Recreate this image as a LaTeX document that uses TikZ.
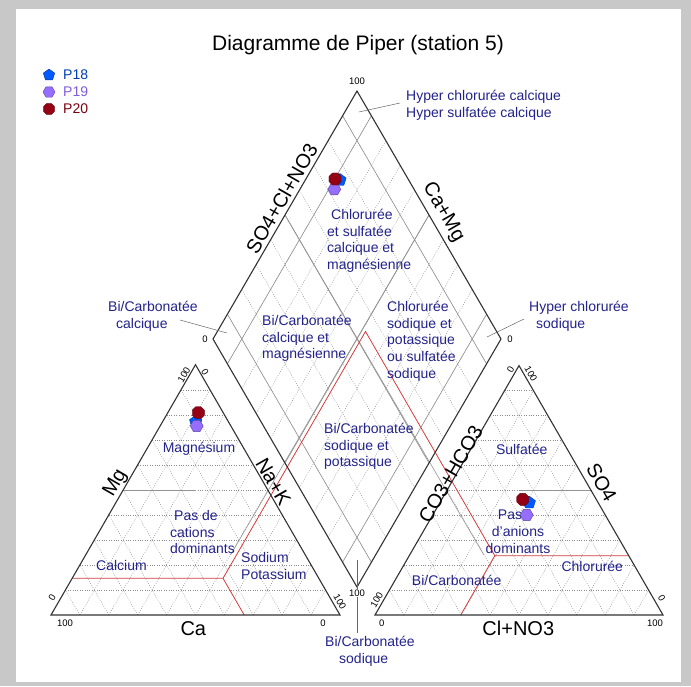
\documentclass[tikz,border=0pt]{standalone}
\usepackage{fontspec}
\setmainfont{Liberation Sans}
\usetikzlibrary{calc,positioning,shapes.geometric}

\definecolor{navy}{RGB}{35,35,140}
\definecolor{redline}{RGB}{210,60,60}
\definecolor{framegray}{RGB}{200,200,200}
\definecolor{c18}{RGB}{0,90,255}
\definecolor{c19}{RGB}{150,110,255}
\definecolor{c20}{RGB}{150,0,20}

\begin{document}
\begin{tikzpicture}[x=1pt,y=-1pt,
		frame/.style={draw=black!80,line width=1.1pt},
		grid/.style={draw=black!45,line width=0.45pt,dash pattern=on 0.9pt off 1.5pt},
		clas/.style={draw=black!42,line width=0.6pt},
		redl/.style={draw=redline,line width=0.8pt},
		lead/.style={draw=black!60,line width=0.5pt},
		lab/.style={text=navy,font=\fontsize{14}{16.7}\selectfont,align=left,inner sep=0pt},
		ax/.style={font=\fontsize{20}{24}\selectfont,inner sep=0pt},
		tk/.style={font=\fontsize{9.5}{11}\selectfont,inner sep=0pt},
		leg/.style={anchor=west,inner sep=0pt,font=\fontsize{14}{16}\selectfont},
		p18/.style={regular polygon,regular polygon sides=5,fill=c18,draw=c18!60!black,minimum size=13pt,inner sep=0pt},
		p19/.style={regular polygon,regular polygon sides=6,fill=c19,draw=c19!60!black,minimum size=13pt,inner sep=0pt},
		p20/.style={regular polygon,regular polygon sides=8,fill=c20,draw=c20!60!black,minimum size=13pt,inner sep=0pt}]
	\useasboundingbox (0,0) rectangle (691,686);
	\fill[framegray] (0,0) rectangle (691,686);
	\fill[white] (16,9) rectangle (681,682);
	%% define corners
	\coordinate (cA) at (51,615);
	\coordinate (cN) at (340,615);
	\coordinate (cM) at (195.5,364.7);
	\coordinate (aC) at (375,615);
	\coordinate (aL) at (663,615);
	\coordinate (aS) at (519,365.6);
	\coordinate (dT) at (357,91);
	\coordinate (dL) at (213,339);
	\coordinate (dR) at (501,339);
	\coordinate (dB) at (357,587);
	%% define grids
	\foreach \i in {1,...,9}{
		\draw[grid] ($(cA)!\i/10!(cM)$) -- ($(cN)!\i/10!(cM)$);
		\draw[grid] ($(cA)!\i/10!(cN)$) -- ($(cM)!\i/10!(cN)$);
		\draw[grid] ($(cN)!\i/10!(cA)$) -- ($(cM)!\i/10!(cA)$);
		\draw[grid] ($(aC)!\i/10!(aS)$) -- ($(aL)!\i/10!(aS)$);
		\draw[grid] ($(aC)!\i/10!(aL)$) -- ($(aS)!\i/10!(aL)$);
		\draw[grid] ($(aL)!\i/10!(aC)$) -- ($(aS)!\i/10!(aC)$);
		\draw[grid] ($(dB)!\i/10!(dR)$) -- ($(dL)!\i/10!(dT)$);
		\draw[grid] ($(dB)!\i/10!(dL)$) -- ($(dR)!\i/10!(dT)$);
	}
	%% define classification lines
	\foreach \i in {1,5,9}{
		\draw[clas] ($(dB)!\i/10!(dR)$) -- ($(dL)!\i/10!(dT)$);
		\draw[clas] ($(dB)!\i/10!(dL)$) -- ($(dR)!\i/10!(dT)$);
	}
	\coordinate (nk0) at ($(cA)!0.5!(cN)$);
	\coordinate (nk1) at ($(dR)!0.5!(dT)$);
	\coordinate (hc0) at ($(aC)!0.5!(aL)$);
	\coordinate (hc1) at ($(dL)!0.5!(dT)$);
	\draw[clas] ($(nk0)!0.15!(nk1)$) -- (nk1);
	\draw[clas] ($(hc0)!0.15!(hc1)$) -- (hc1);
	\coordinate (mg0) at ($(cA)!0.5!(cM)$);
	\coordinate (so0) at ($(aL)!0.5!(aS)$);
	\draw[clas] (mg0) -- (mg0 -| cM);
	\draw[clas] (so0 -| aS) -- (so0);
	%% define red lines
	\coordinate (rL) at (72.2,578.3);
	\coordinate (rK1) at (223,578.3);
	\coordinate (rB1) at (244.2,615);
	\coordinate (rP) at (365.5,331.5);
	\coordinate (rK2) at (494.8,555.7);
	\coordinate (rB2) at (460.7,615);
	\coordinate (rR) at (628.8,555.7);
	\draw[redl] (rL) -- (rK1) -- (rP) -- (rK2) -- (rR);
	\draw[redl] (rK1) -- (rB1);
	\draw[redl] (rK2) -- (rB2);
	%% define frames
	\draw[frame] (cA) -- (cN) -- (cM) -- cycle;
	\draw[frame] (aC) -- (aL) -- (aS) -- cycle;
	\draw[frame] (dT) -- (dR) -- (dB) -- (dL) -- cycle;
	%% define leaders
	\coordinate (ldA1) at (359,112);
	\coordinate (ldA2) at (400,103);
	\coordinate (ldB1) at (227,333);
	\coordinate (ldB2) at (180,320);
	\coordinate (ldC1) at (487,337);
	\coordinate (ldC2) at (524,319);
	\coordinate (ldD1) at (357,560);
	\coordinate (ldD2) at (357,633);
	\draw[lead] (ldA1) -- (ldA2);
	\draw[lead] (ldB1) -- (ldB2);
	\draw[lead] (ldC1) -- (ldC2);
	\draw[lead] (ldD1) -- (ldD2);
	%% define texts
	\node (title) at (358,45) [font=\fontsize{21}{25}\selectfont] {Diagramme de Piper (station 5)};
	\node (axMg) at (115.7,483.3) [ax,rotate=60] {Mg};
	\node (axNK) at (273.3,481.7) [ax,rotate=-60] {Na+K};
	\node (axCa) at (193.3,629) [ax] {Ca};
	\node (axHC) at (450.7,474) [ax,rotate=60] {CO3+HCO3};
	\node (axSO) at (601.7,482.7) [ax,rotate=-60] {SO4};
	\node (axCl) at (518.3,628.3) [ax] {Cl+NO3};
	\node (axAn) at (281.7,198.3) [ax,rotate=60] {SO4+Cl+NO3};
	\node (axCM) at (443.3,212.3) [ax,rotate=-60] {Ca+Mg};
	%% ticks
	\node (t1) at (65,623.3) [tk] {100};
	\node (t2) at (323,623.3) [tk] {0};
	\node (t3) at (52,598) [tk,rotate=60] {0};
	\node (t4) at (184,375) [tk,rotate=60] {100};
	\node (t5) at (205,371.7) [tk,rotate=-60] {0};
	\node (t6) at (340,601.7) [tk,rotate=-60] {100};
	\node (t7) at (510.7,370) [tk,rotate=60] {0};
	\node (t8) at (531,374) [tk,rotate=-60] {100};
	\node (t9) at (376.7,600) [tk,rotate=60] {100};
	\node (t10) at (661.7,598) [tk,rotate=-60] {0};
	\node (t11) at (381.7,623.3) [tk] {0};
	\node (t12) at (655,623.3) [tk] {100};
	\node (t13) at (357,81) [tk] {100};
	\node (t14) at (205,339.3) [tk] {0};
	\node (t15) at (510,339.3) [tk] {0};
	\node (t16) at (357,593) [tk,fill=white,inner sep=1pt] {100};
	%% region labels
	\node (hyA) at (406,90) [lab,anchor=north west] {Hyper chlorurée calcique\\Hyper sulfatée calcique};
	\node (rgT) at (327,209) [lab,anchor=north west] {\hspace{4pt}Chlorurée\\et sulfatée\\calcique et\\magnésienne};
	\node (hyL) at (108,301) [lab,anchor=north west] {Bi/Carbonatée\\\hspace{8pt}calcique};
	\node (rgL) at (262,315) [lab,anchor=north west] {Bi/Carbonatée\\calcique et\\magnésienne};
	\node (rgR) at (387,301) [lab,anchor=north west] {Chlorurée\\sodique et\\potassique\\ou sulfatée\\sodique};
	\node (hyR) at (529,301) [lab,anchor=north west] {Hyper chlorurée\\\hspace{7pt}sodique};
	\node (rgB) at (324,423) [lab,anchor=north west] {Bi/Carbonatée\\sodique et\\potassique};
	\node (hyB) at (325,636) [lab,anchor=north west] {Bi/Carbonatée\\\hspace{14pt}sodique};
	\node (cMg) at (199,448.3) [lab] {Magnésium};
	\node (cPas) at (170,510) [lab,anchor=north west] {\hspace{4pt}Pas de\\cations\\dominants};
	\node (cCa) at (96,560) [lab,anchor=north west] {Calcium};
	\node (cNa) at (241,552) [lab,anchor=north west] {Sodium\\Potassium};
	\node (aSu) at (521.7,449.3) [lab] {Sulfatée};
	\node (aPas) at (518,510) [lab,anchor=north,align=center] {\hspace{-16pt}Pas\\d'anions\\dominants};
	\node (aCl) at (592.3,566.7) [lab] {Chlorurée};
	\node (aBi) at (456.7,580) [lab] {Bi/Carbonatée};
	%% define points
	\node (p18c) at (195.7,421.7) [p18] {};
	\node (p19c) at (196.7,426) [p19] {};
	\node (p20c) at (198.3,412.7) [p20] {};
	\node (p18d) at (340,180) [p18] {};
	\node (p19d) at (334.3,189.3) [p19] {};
	\node (p20d) at (335,179) [p20] {};
	\node (p18a) at (529.3,502.7) [p18] {};
	\node (p19a) at (526.7,515) [p19] {};
	\node (p20a) at (522.7,499.3) [p20] {};
	%% legend
	\node (l18) at (49,75) [p18,minimum size=12pt] {};
	\node (l19) at (49,92) [p19,minimum size=12pt] {};
	\node (l20) at (49,109) [p20,minimum size=12pt] {};
	\node (n18) [right=14pt of l18.center,leg,text=c18!70!black] {P18};
	\node (n19) [right=14pt of l19.center,leg,text=c19!85!black] {P19};
	\node (n20) [right=14pt of l20.center,leg,text=c20!80!black] {P20};
\end{tikzpicture}
\end{document}
